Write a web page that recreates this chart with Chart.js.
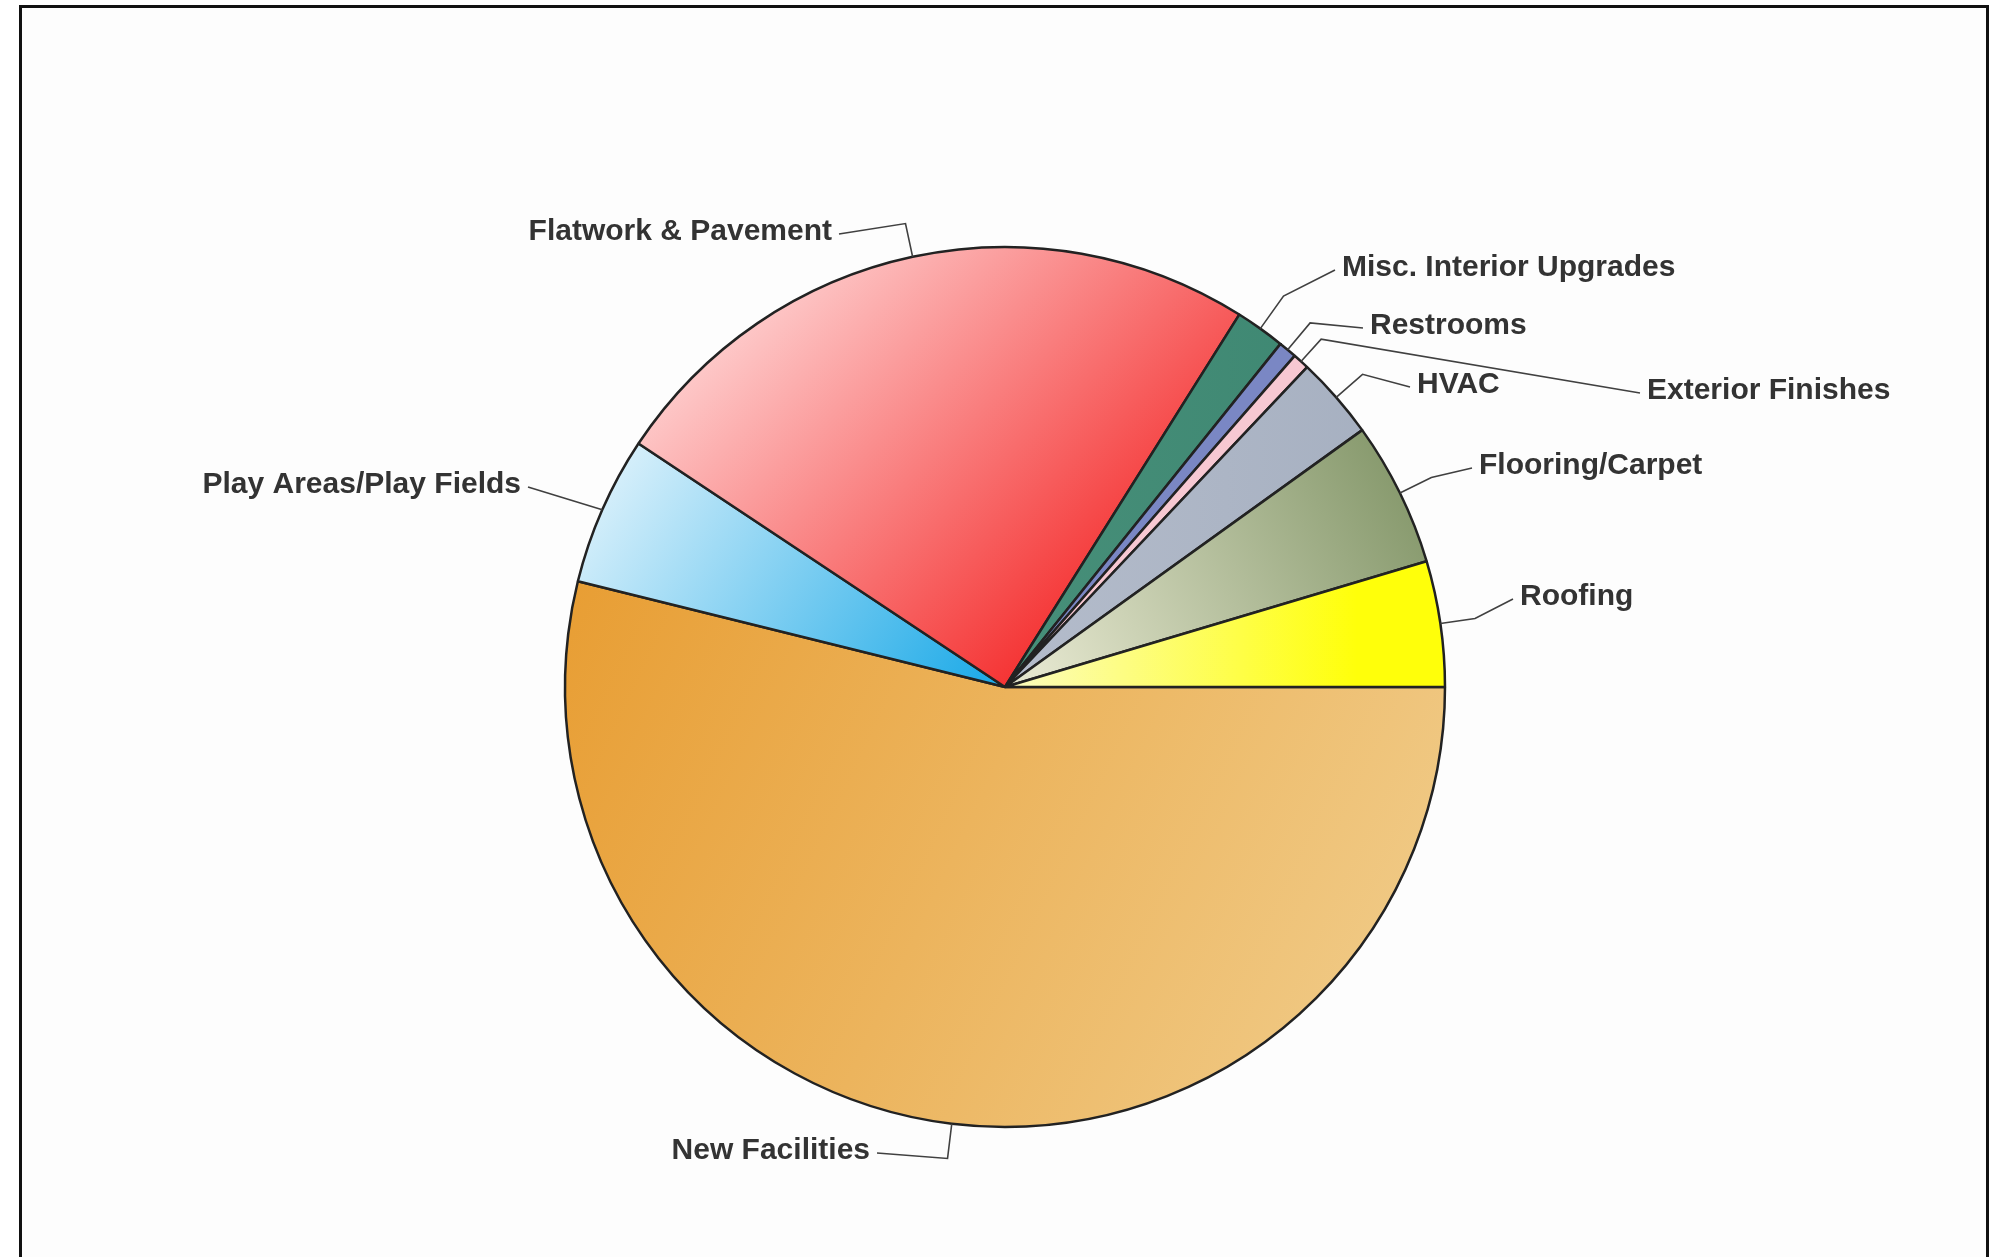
<!DOCTYPE html>
<html>
<head>
<meta charset="utf-8">
<script src="https://cdn.jsdelivr.net/npm/chart.js@4.4.1/dist/chart.umd.min.js"></script>
<style>
  html, body { margin: 0; padding: 0; background: #ffffff; }
  #wrap { width: 1998px; height: 1257px; }
</style>
</head>
<body>
<div id="wrap"><canvas id="pie" width="1998" height="1257"></canvas></div>
<script>
// Slices in clockwise order, starting at 3 o'clock
const categories = ['New Facilities', 'Play Areas/Play Fields', 'Flatwork & Pavement', 'Misc. Interior Upgrades',
    'Restrooms', 'Exterior Finishes', 'HVAC', 'Flooring/Carpet', 'Roofing'];
const shares = [53.85, 5.47, 24.6, 1.83, 0.67, 0.61, 3.03, 5.31, 4.61];

// Fill of each slice: gradient start / end colours and direction (in units of radius, from centre)
const colorFrom = ['#e89e34', '#eef8fd', '#ffe0e0', '#478f79', '#7a87c4', '#f7c8d2', '#b4bccb', '#e3e5cd', '#fcfcc0'];
const colorTo = ['#f0ca86', '#22ace8', '#f42a2a', '#3b8570', '#7a87c4', '#f7c8d2', '#a4aebf', '#84976a', '#ffff0a'];
const gradDir = [
    [-1, -0.2, 0.9, 0.7], [-1, -0.55, -0.1, 0.05], [-0.75, -0.9, 0.1, 0.0], [0, 0, 1, 0], [0, 0, 1, 0],
    [0, 0, 1, 0], [0, 0, 1, 0], [0.1, 0, 0.95, -0.45], [0, 0, 0.8, 0]
];

// Label placement: text anchor relative to the pie centre, alignment, and radial length of the leader's first leg
const labelAt = [[-135, 464], [-484, -202], [-173, -455], [337, -419], [365, -361], [642, -296], [412, -302], [474, -221], [515, -90]];
const labelAlign = ['right', 'right', 'right', 'left', 'left', 'left', 'left', 'left', 'left'];
const leaderLeg = [35, 0, 34, 40, 35, 30, 35, 35, 35];

const framePlugin = {
    id: 'frame',
    beforeDraw(chart) {
        const ctx = chart.ctx;
        ctx.save();
        ctx.fillStyle = '#ffffff';
        ctx.fillRect(0, 0, chart.width, chart.height);
        ctx.fillStyle = '#fdfdfd';
        ctx.fillRect(22, 8, 1964, chart.height);
        ctx.strokeStyle = '#111111';
        ctx.lineWidth = 3;
        ctx.beginPath();
        ctx.moveTo(20.5, chart.height + 5);
        ctx.lineTo(20.5, 6.5);
        ctx.lineTo(1987.5, 6.5);
        ctx.lineTo(1987.5, chart.height + 5);
        ctx.stroke();
        ctx.restore();
    }
};

const gradientPlugin = {
    id: 'sliceGradients',
    beforeDatasetsDraw(chart) {
        const ctx = chart.ctx;
        chart.getDatasetMeta(0).data.forEach((arc, i) => {
            const r = arc.outerRadius;
            const d = gradDir[i];
            const g = ctx.createLinearGradient(arc.x + d[0] * r, arc.y + d[1] * r, arc.x + d[2] * r, arc.y + d[3] * r);
            g.addColorStop(0, colorFrom[i]);
            g.addColorStop(1, colorTo[i]);
            arc.options = Object.assign({}, arc.options, { backgroundColor: g });
        });
    }
};

const labelPlugin = {
    id: 'leaderLabels',
    afterDatasetsDraw(chart) {
        const ctx = chart.ctx;
        ctx.save();
        ctx.font = 'bold 30px "Liberation Sans", Arial, sans-serif';
        ctx.fillStyle = '#333333';
        ctx.strokeStyle = '#404040';
        ctx.lineWidth = 1.6;
        ctx.textBaseline = 'middle';
        chart.getDatasetMeta(0).data.forEach((arc, i) => {
            const mid = (arc.startAngle + arc.endAngle) / 2;
            const r = arc.outerRadius;
            const ax = arc.x + Math.cos(mid) * r;
            const ay = arc.y + Math.sin(mid) * r;
            const bx = arc.x + Math.cos(mid) * (r + leaderLeg[i]);
            const by = arc.y + Math.sin(mid) * (r + leaderLeg[i]);
            const tx = arc.x + labelAt[i][0];
            const ty = arc.y + labelAt[i][1];
            const gap = labelAlign[i] === 'left' ? -7 : 7;
            ctx.beginPath();
            ctx.moveTo(ax, ay);
            ctx.lineTo(bx, by);
            ctx.lineTo(tx + gap, ty + 2);
            ctx.stroke();
            ctx.textAlign = labelAlign[i];
            ctx.fillText(categories[i], tx, ty);
        });
        ctx.restore();
    }
};

new Chart(document.getElementById('pie'), {
    type: 'pie',
    data: {
        labels: categories,
        datasets: [{
            data: shares,
            backgroundColor: colorTo,
            borderColor: '#222222',
            borderWidth: 2.5
        }]
    },
    options: {
        responsive: false,
        animation: false,
        rotation: 90,
        radius: 440,
        layout: { padding: { left: 12, top: 117, right: 0, bottom: 0 } },
        plugins: {
            legend: { display: false },
            tooltip: { enabled: false }
        }
    },
    plugins: [framePlugin, gradientPlugin, labelPlugin]
});
</script>
</body>
</html>
